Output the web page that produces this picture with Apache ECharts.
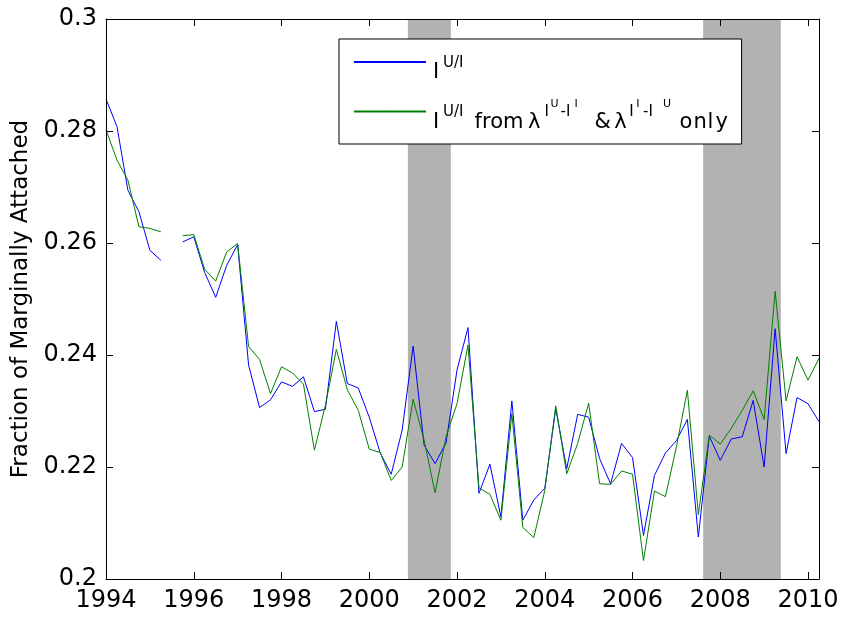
<!DOCTYPE html>
<html>
<head>
<meta charset="utf-8">
<title>Fraction of Marginally Attached</title>
<script src="https://cdn.jsdelivr.net/npm/echarts@6/dist/echarts.min.js"></script>
<style>
  html, body { margin: 0; padding: 0; background: #fff; }
  #chart { width: 846px; height: 618px; }
</style>
</head>
<body>
<div id="chart"></div>
<script>
// Quarterly dates (year + quarter offset)
const quarters = [
  1994.00, 1994.25, 1994.50, 1994.75, 1995.00, 1995.25, 1995.50, 1995.75,
  1996.00, 1996.25, 1996.50, 1996.75, 1997.00, 1997.25, 1997.50, 1997.75,
  1998.00, 1998.25, 1998.50, 1998.75, 1999.00, 1999.25, 1999.50, 1999.75,
  2000.00, 2000.25, 2000.50, 2000.75, 2001.00, 2001.25, 2001.50, 2001.75,
  2002.00, 2002.25, 2002.50, 2002.75, 2003.00, 2003.25, 2003.50, 2003.75,
  2004.00, 2004.25, 2004.50, 2004.75, 2005.00, 2005.25, 2005.50, 2005.75,
  2006.00, 2006.25, 2006.50, 2006.75, 2007.00, 2007.25, 2007.50, 2007.75,
  2008.00, 2008.25, 2008.50, 2008.75, 2009.00, 2009.25, 2009.50, 2009.75,
  2010.00, 2010.25
];

// Fraction of marginally attached, full flow estimate
const fracFull = [
  0.2857, 0.2808, 0.2694, 0.2656, 0.2587, 0.2569, null,   0.2602,
  0.2611, 0.2547, 0.2503, 0.2560, 0.2597, 0.2382, 0.2306, 0.2320,
  0.2352, 0.2344, 0.2361, 0.2299, 0.2303, 0.2460, 0.2349, 0.2341,
  0.2289, 0.2225, 0.2187, 0.2266, 0.2416, 0.2239, 0.2206, 0.2243,
  0.2373, 0.2449, 0.2153, 0.2205, 0.2111, 0.2318, 0.2105, 0.2141,
  0.2162, 0.2304, 0.2197, 0.2294, 0.2289, 0.2215, 0.2170, 0.2242,
  0.2217, 0.2078, 0.2185, 0.2225, 0.2247, 0.2285, 0.2075, 0.2255,
  0.2212, 0.2250, 0.2254, 0.2319, 0.2200, 0.2447, 0.2224, 0.2324,
  0.2313, 0.2281
];

// Same fraction using only the two lambda flows
const fracLambda = [
  0.2802, 0.2748, 0.2712, 0.2629, 0.2626, 0.2620, null,   0.2613,
  0.2615, 0.2553, 0.2532, 0.2584, 0.2599, 0.2415, 0.2392, 0.2331,
  0.2379, 0.2368, 0.2348, 0.2230, 0.2310, 0.2410, 0.2338, 0.2301,
  0.2232, 0.2226, 0.2176, 0.2200, 0.2321, 0.2248, 0.2154, 0.2254,
  0.2313, 0.2418, 0.2163, 0.2151, 0.2105, 0.2295, 0.2092, 0.2074,
  0.2158, 0.2309, 0.2188, 0.2242, 0.2314, 0.2170, 0.2169, 0.2193,
  0.2187, 0.2033, 0.2157, 0.2147, 0.2236, 0.2337, 0.2115, 0.2257,
  0.2241, 0.2269, 0.2301, 0.2336, 0.2285, 0.2514, 0.2318, 0.2397,
  0.2355, 0.2394
];

// Recession periods (start, end) in fractional years
const recessions = [
  [2000.88, 2001.86],
  [2007.61, 2009.38]
];

const xTicks = [1994, 1996, 1998, 2000, 2002, 2004, 2006, 2008, 2010];
const yTicks = [0.2, 0.22, 0.24, 0.26, 0.28, 0.3];

const FONT = 'DejaVu Sans';

const pairs = (vals) => quarters.map((q, i) => [q, vals[i]]);

// Legend labels as typeset pieces: [level, text, advance width]
// level: m = normal, s = superscript, ss = second-level superscript
const legendFull = [
  ['m', 'I', 10], ['s', 'U/I', 31.6]
];
const legendLambda = [
  ['m', 'I', 10], ['s', 'U/I', 31.6],
  ['m', 'from', 53.4], ['m', 'λ', 16.6],
  ['s', 'I', 6], ['ss', 'U', 10], ['s', '-I', 14], ['ss', 'I', 20],
  ['m', '&', 19.7], ['m', 'λ', 15],
  ['s', 'I', 7], ['ss', 'I', 6.7], ['s', '-I', 20], ['ss', 'U', 16.6],
  ['m', 'o', 14], ['m', 'n', 14], ['m', 'l', 8], ['m', 'y', 13]
];

// Rich-text styles per level (font size and raise)
const levelStyle = {
  m:  { fontSize: 21, padTop: 18.5, lineHeight: 36 },
  s:  { fontSize: 15, padTop: 11.5 },
  ss: { fontSize: 11, padTop: 5.5 }
};

const rich = {};
function buildLabel(pieces) {
  return pieces.map(([lvl, txt, w], i) => {
    const key = lvl + '_' + String(w).replace('.', 'p') + (i === 0 ? 'f' : '');
    if (!rich[key]) {
      const ls = levelStyle[lvl];
      const st = {
        fontSize: ls.fontSize, fontFamily: FONT, color: '#000',
        verticalAlign: 'top', width: w,
        padding: [ls.padTop, 0, 0, i === 0 ? 2 : 0]
      };
      if (ls.lineHeight) st.lineHeight = ls.lineHeight;
      rich[key] = st;
    }
    return '{' + key + '|' + txt + '}';
  }).join('');
}

const nameFull = 'full';
const nameLambda = 'lambda';
const legendText = {
  [nameFull]: buildLabel(legendFull),
  [nameLambda]: buildLabel(legendLambda)
};

const chart = echarts.init(document.getElementById('chart'), null, { renderer: 'canvas' });

const axisLineStyle = { show: true, lineStyle: { color: '#000', width: 1 } };
const tickStyle = { show: true, inside: true, length: 7, lineStyle: { color: '#000', width: 1 } };

const option = {
  animation: false,
  backgroundColor: '#fff',
  textStyle: { fontFamily: FONT },
  grid: { left: 106, right: 27, top: 19, bottom: 39, containLabel: false },
  xAxis: [
    {
      type: 'value', position: 'bottom', min: 1994, max: 2010.25, interval: 2, z: 10,
      axisLine: axisLineStyle, axisTick: tickStyle, splitLine: { show: false },
      axisLabel: {
        show: true, margin: 10, color: '#000', fontSize: 24, fontFamily: FONT,
        showMaxLabel: false,
        formatter: (v) => (xTicks.indexOf(v) >= 0 ? String(v) : '')
      }
    },
    {
      type: 'value', position: 'top', min: 1994, max: 2010.25, interval: 2, z: 10,
      axisLine: axisLineStyle, axisTick: tickStyle, splitLine: { show: false },
      axisLabel: { show: false }
    }
  ],
  yAxis: [
    {
      type: 'value', position: 'left', min: 0.2, max: 0.3, interval: 0.02, z: 10,
      axisLine: axisLineStyle, axisTick: tickStyle, splitLine: { show: false },
      axisLabel: {
        show: true, margin: 9, color: '#000', fontSize: 24, fontFamily: FONT,
        formatter: (v) => String(+v.toFixed(2))
      },
      name: 'Fraction of Marginally Attached',
      nameLocation: 'middle',
      nameGap: 72,
      nameTextStyle: { color: '#000', fontSize: 23, fontFamily: FONT }
    },
    {
      type: 'value', position: 'right', min: 0.2, max: 0.3, interval: 0.02, z: 10,
      axisLine: axisLineStyle, axisTick: tickStyle, splitLine: { show: false },
      axisLabel: { show: false }
    }
  ],
  legend: {
    orient: 'vertical',
    left: 339, top: 39,
    padding: [5, 13, 11, 14],
    itemGap: 10,
    itemWidth: 72, itemHeight: 2,
    backgroundColor: '#fff',
    borderColor: '#000', borderWidth: 1,
    selectedMode: false,
    data: [nameFull, nameLambda],
    formatter: (n) => legendText[n],
    textStyle: { color: '#000', fontFamily: FONT, rich: rich }
  },
  series: [
    {
      name: nameFull, type: 'line', data: pairs(fracFull),
      symbol: 'none', connectNulls: false, z: 3,
      lineStyle: { color: '#0000ff', width: 1 },
      itemStyle: { color: '#0000ff' },
      markArea: {
        silent: true, z: 1,
        itemStyle: { color: '#b2b2b2' },
        data: recessions.map(r => [{ xAxis: r[0] }, { xAxis: r[1] }])
      }
    },
    {
      name: nameLambda, type: 'line', data: pairs(fracLambda),
      symbol: 'none', connectNulls: false, z: 3,
      lineStyle: { color: '#008000', width: 1 },
      itemStyle: { color: '#008000' }
    }
  ]
};

chart.setOption(option);
</script>
</body>
</html>
